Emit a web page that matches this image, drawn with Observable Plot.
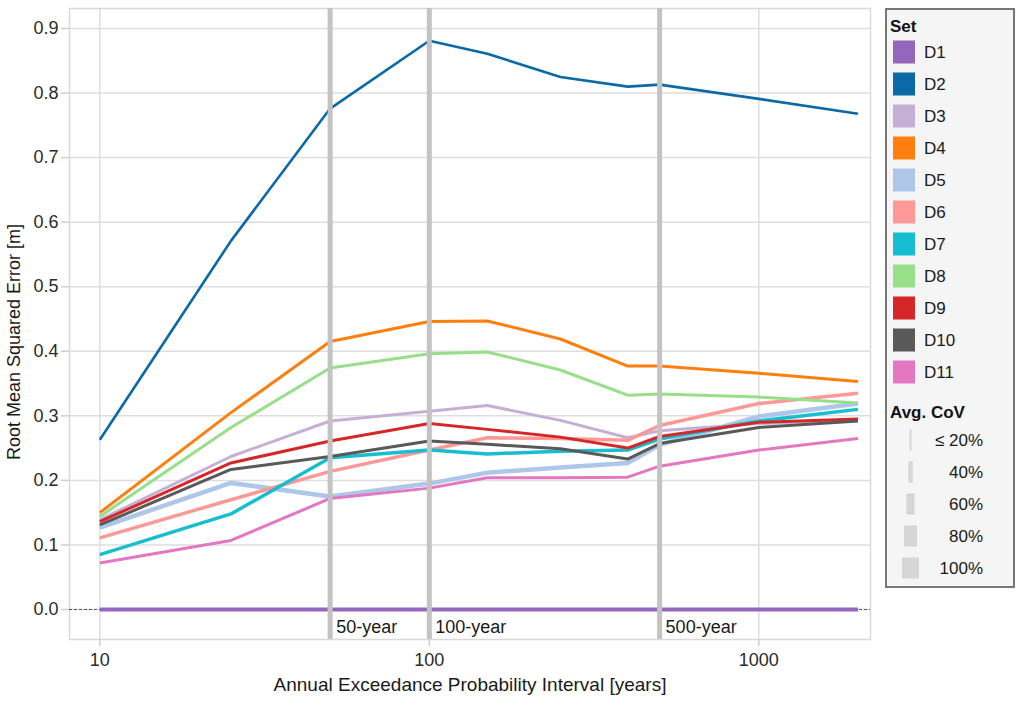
<!DOCTYPE html>
<html>
<head>
<meta charset="utf-8">
<script src="https://cdn.jsdelivr.net/npm/d3@7"></script>
<script src="https://cdn.jsdelivr.net/npm/@observablehq/plot@0.6"></script>
<style>
  html, body { margin: 0; padding: 0; background: #fff; }
  #wrap { position: relative; width: 1024px; height: 707px; font-family: "Liberation Sans", Arial, sans-serif; }
  #legend { position: absolute; left: 0; top: 0; }
</style>
</head>
<body>
<div id="wrap"></div>
<script>
// ---- data ----
const returnPeriods = [10, 25, 50, 100, 150, 250, 400, 500, 1000, 2000];
const sets = ["D1","D2","D3","D4","D5","D6","D7","D8","D9","D10","D11"];
const setColors = ["#9467bd","#0b6aa6","#c5b0d5","#ff7f0e","#aec7e8","#ff9896","#17becf","#98df8a","#d62728","#595959","#e377c2"];
const D1  = [0, 0, 0, 0, 0, 0, 0, 0, 0, 0];
const D2  = [0.263, 0.571, 0.776, 0.881, 0.861, 0.825, 0.810, 0.813, 0.791, 0.768];
const D3  = [0.139, 0.237, 0.292, 0.307, 0.316, 0.293, 0.266, 0.277, 0.288, 0.294];
const D4  = [0.150, 0.305, 0.415, 0.446, 0.447, 0.419, 0.377, 0.377, 0.366, 0.353];
const D5  = [0.127, 0.196, 0.175, 0.195, 0.212, 0.220, 0.227, 0.255, 0.299, 0.319];
const D6  = [0.111, 0.170, 0.214, 0.247, 0.266, 0.265, 0.262, 0.285, 0.319, 0.335];
const D7  = [0.085, 0.148, 0.235, 0.247, 0.241, 0.245, 0.247, 0.264, 0.292, 0.310];
const D8  = [0.144, 0.282, 0.374, 0.396, 0.399, 0.371, 0.332, 0.334, 0.329, 0.320];
const D9  = [0.136, 0.227, 0.261, 0.288, 0.279, 0.267, 0.250, 0.268, 0.290, 0.295];
const D10 = [0.131, 0.217, 0.237, 0.261, 0.256, 0.249, 0.233, 0.257, 0.282, 0.292];
const D11 = [0.072, 0.107, 0.172, 0.188, 0.204, 0.204, 0.205, 0.222, 0.247, 0.265];
const setValues = [D1, D2, D3, D4, D5, D6, D7, D8, D9, D10, D11];
const avgCoV = [36, 25, 28, 28, 40, 32, 32, 28, 28, 28, 28];     // % per set
const covLegend = [20, 40, 60, 80, 100];
const covLabels = ["\u2264 20%", "40%", "60%", "80%", "100%"];
const markedPeriods = [50, 100, 500];
const xTicks = [10, 100, 1000];
const yTicks = [0, 0.1, 0.2, 0.3, 0.4, 0.5, 0.6, 0.7, 0.8, 0.9];

// ---- build ----
const widthOf = d3.scaleLinear([20, 40, 60, 80, 100], [2, 4.5, 8, 13, 17]);
const rows = sets.flatMap((s, i) => returnPeriods.map((rp, j) => ({set: s, rp, rmse: setValues[i][j], cov: avgCoV[i]})));

const font = "'Liberation Sans', Arial, sans-serif";
const lineMarks = sets.map((s, i) =>
  Plot.line(rows.filter(r => r.set === s), {
    x: "rp", y: "rmse", stroke: setColors[i], strokeWidth: widthOf(avgCoV[i]),
    strokeLinejoin: "round", strokeLinecap: "butt"
  })
);

const chart = Plot.plot({
  width: 1024,
  height: 707,
  marginLeft: 69,
  marginRight: 154,
  marginTop: 8,
  marginBottom: 68,
  style: {fontFamily: font, background: "transparent"},
  x: {type: "log", domain: [8.09, 2183]},
  y: {domain: [-0.0465, 0.931]},
  marks: [
    Plot.gridX(xTicks, {stroke: "#dedede", strokeOpacity: 1, strokeWidth: 1.5}),
    Plot.gridY(yTicks, {stroke: "#dedede", strokeOpacity: 1, strokeWidth: 1.5}),
    Plot.frame({stroke: "#d9d9d9", strokeWidth: 1.5}),
    Plot.axisX(xTicks, {tickFormat: d => String(d), tickSize: 7, tickPadding: 7, stroke: "#cfcfcf", strokeWidth: 1.5, fill: "#2b2b2b", fontSize: 18, label: null}),
    Plot.axisY(yTicks, {tickFormat: d3.format(".1f"), tickSize: 8, tickPadding: 3, stroke: "#cfcfcf", strokeWidth: 1.5, fill: "#2b2b2b", fontSize: 18, label: null}),
    Plot.ruleY([0], {stroke: "#555", strokeWidth: 1, strokeDasharray: "3,2"}),
    ...lineMarks,
    Plot.ruleX(markedPeriods, {x: d => d, stroke: "#c3c3c3", strokeWidth: 5}),
    Plot.text(markedPeriods, {x: d => d, frameAnchor: "bottom", dy: -7, dx: 6, textAnchor: "start", text: d => `${d}-year`, fontSize: 18, fill: "#1a1a1a"}),
    Plot.text(["Annual Exceedance Probability Interval [years]"], {frameAnchor: "bottom", dy: 51, textAnchor: "middle", text: d => d, fontSize: 19, fill: "#1a1a1a"}),
    Plot.text(["Root Mean Squared Error [m]"], {frameAnchor: "left", dx: -55, dy: 18, rotate: -90, textAnchor: "middle", text: d => d, fontSize: 18, fill: "#1a1a1a"})
  ]
});
document.getElementById("wrap").appendChild(chart);

// ---- legend ----
const lg = d3.select("#wrap").append("svg").attr("id", "legend")
  .attr("width", 1024).attr("height", 707)
  .style("font-family", font).style("pointer-events", "none");
lg.append("rect").attr("x", 886).attr("y", 9).attr("width", 128).attr("height", 578)
  .attr("fill", "#f5f5f5").attr("stroke", "#777").attr("stroke-width", 2);
lg.append("text").attr("x", 890).attr("y", 26).attr("dominant-baseline", "central")
  .attr("font-weight", "bold").attr("font-size", 17).attr("fill", "#111").text("Set");
sets.forEach((s, i) => {
  const cy = 52 + 32 * i;
  lg.append("rect").attr("x", 893).attr("y", cy - 11.5).attr("width", 22).attr("height", 23).attr("fill", setColors[i]);
  lg.append("text").attr("x", 924).attr("y", cy).attr("dominant-baseline", "central")
    .attr("font-size", 17).attr("fill", "#1a1a1a").text(s);
});
lg.append("text").attr("x", 890).attr("y", 412).attr("dominant-baseline", "central")
  .attr("font-weight", "bold").attr("font-size", 17).attr("fill", "#111").text("Avg. CoV");
covLegend.forEach((c, i) => {
  const cy = 440 + 32 * i;
  const w = widthOf(c);
  lg.append("rect").attr("x", 910.5 - w / 2).attr("y", cy - 10.5).attr("width", w).attr("height", 21).attr("fill", "#d6d6d6");
  lg.append("text").attr("x", 983).attr("y", cy).attr("dominant-baseline", "central").attr("text-anchor", "end")
    .attr("font-size", 17).attr("fill", "#1a1a1a").text(covLabels[i]);
});
</script>
</body>
</html>
